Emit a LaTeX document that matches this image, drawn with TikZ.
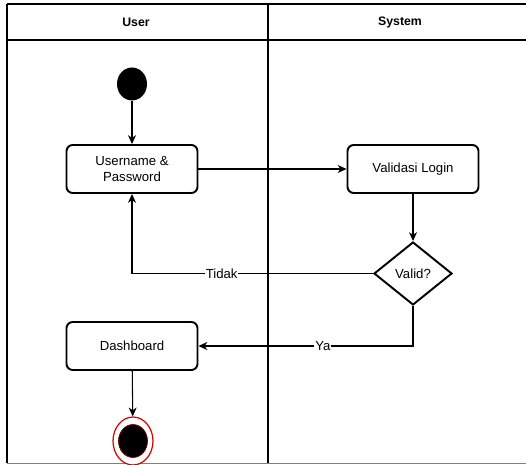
\documentclass[tikz,border=0pt]{standalone}
\usepackage{fontspec}
\setmainfont{Liberation Sans}
\usetikzlibrary{arrows.meta, shapes.geometric}

\begin{document}
\begin{tikzpicture}[x=0.02cm,y=-0.02cm,
  lane/.style={line width=0.9pt},
  act/.style={draw,line width=1.1pt,rounded corners=3.5pt,minimum width=2.62cm,
    minimum height=0.96cm,font=\fontsize{7.5}{9}\selectfont,align=center,inner sep=1pt},
  dec/.style={diamond,draw,line width=1.1pt,aspect=1.24,minimum width=1.56cm,
    minimum height=1.26cm,inner sep=0pt,font=\fontsize{7.5}{9}\selectfont},
  flow/.style={-{Stealth[length=5pt,width=4.5pt,inset=1.5pt]},line width=0.6pt},
  lbl/.style={fill=white,inner sep=0.5pt,font=\fontsize{7.5}{9}\selectfont},
  head/.style={font=\fontsize{7}{8}\selectfont\bfseries}]
  \useasboundingbox (0,0) rectangle (526,465);
  % swimlanes
  \begin{scope}
    \clip (0,0) rectangle (526,465);
    \draw[lane] (7,4) -- (540,4);
    \draw[lane] (7,40) -- (540,40);
    \draw[lane] (7,4) -- (7,463);
    \draw[lane] (268,4) -- (268,463);
    \draw[lane,gray] (7,463.5) -- (540,463.5);
  \end{scope}
  \node[head](huser) at (136,22){User};
  \node[head](hsys) at (400,22){System};
  % activities
  \node[ellipse,fill=black,minimum width=0.6cm,minimum height=0.66cm,inner sep=0pt](start) at (132,84){};
  \node[act](user) at (132,169){Username \&\\Password};
  \node[act](login) at (413,169){Validasi Login};
  \node[dec](valid) at (413,273.5){Valid?};
  \node[act](dash) at (132,346){Dashboard};
  \node[ellipse,draw=red!85!black,line width=0.7pt,fill=white,minimum width=0.8cm,
    minimum height=0.96cm,inner sep=0pt](stop) at (133,441){};
  \node[ellipse,draw=red!50!black,line width=0.4pt,fill=black,minimum width=0.58cm,
    minimum height=0.66cm,inner sep=0pt](stopin) at (133,441){};
  % flows
  \draw[flow] (start) -- (user);
  \draw[flow] (user) -- (login);
  \draw[flow] (login) -- (valid);
  \draw[flow] (valid.west) -| node[lbl,pos=0.314]{Tidak} (user.south);
  \draw[flow] (valid.south) |- node[lbl,pos=0.71]{Ya} (dash.east);
  \draw[flow] (dash) -- (stop);
\end{tikzpicture}
\end{document}
